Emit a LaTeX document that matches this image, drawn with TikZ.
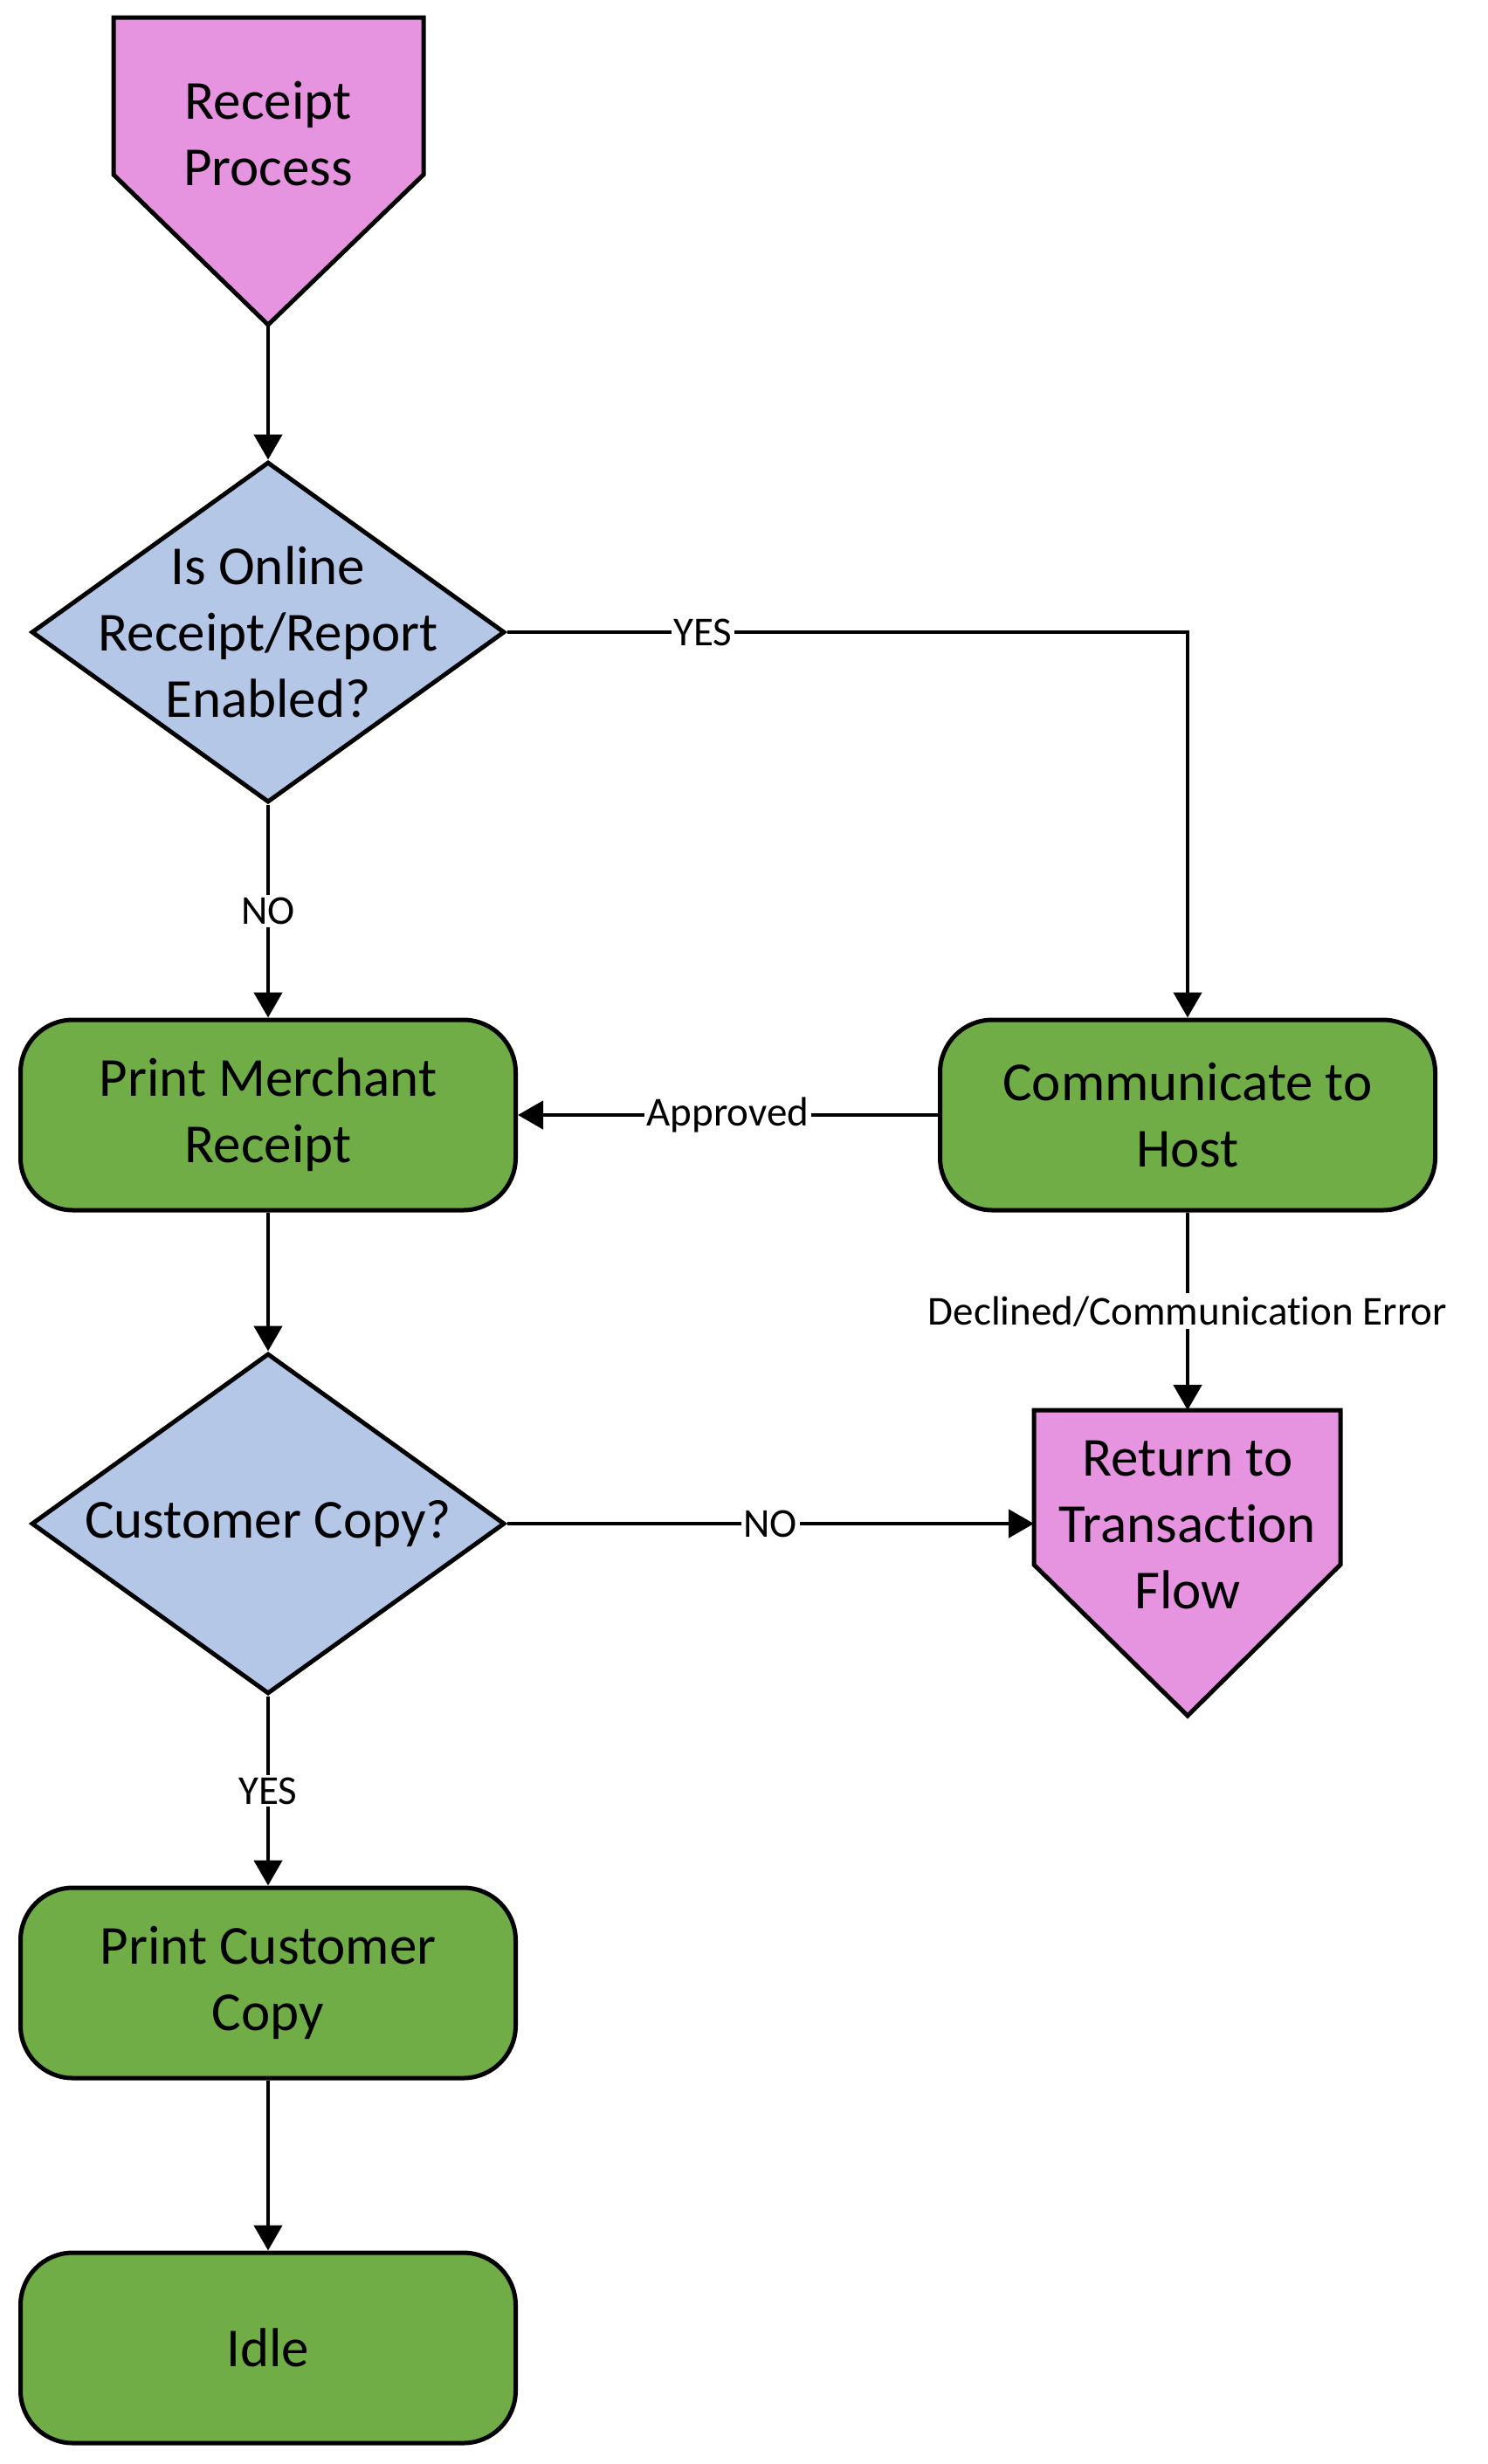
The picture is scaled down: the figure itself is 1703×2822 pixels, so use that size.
\documentclass[tikz,border=0pt]{standalone}
\usepackage{fontspec}
\setmainfont{Carlito}[Ligatures=NoCommon]
\usetikzlibrary{arrows.meta,shapes.geometric}
\definecolor{pinkc}{RGB}{230,147,224}
\definecolor{bluec}{RGB}{180,199,231}
\definecolor{greenc}{RGB}{112,173,71}
\newcommand\mainsz{\fontsize{63}{76}\selectfont}
\newcommand\lblsz{\fontsize{47}{56}\selectfont}
\begin{document}
\begin{tikzpicture}[x=1pt,y=-1pt,
  stepbox/.style={draw, line width=5pt, fill=greenc, rounded corners=60pt,
    minimum width=567pt, minimum height=218pt, align=center, font=\mainsz, inner sep=0pt},
  decision/.style={draw, diamond, line width=5pt, fill=bluec, inner sep=0pt,
    minimum width=542pt, minimum height=390pt},
  terminal/.style={draw, line width=5pt, fill=pinkc, line join=miter},
  txt/.style={align=center, font=\mainsz, inner sep=0pt},
  conn/.style={line width=4.8pt, -{Triangle[length=29pt,width=32pt]}},
  lbl/.style={fill=white, font=\lblsz, inner sep=3pt}
]
\useasboundingbox (0,0) rectangle (1703,2822);
\fill[white] (0,0) rectangle (1703,2822);

% Receipt Process (pentagon)
\draw[terminal] (130,20) -- (485,20) -- (485,200) -- (307,372) -- (130,200) -- cycle;
\node[txt] (rp) at (307,153) {Receipt\\Process};
\coordinate (rptip) at (307,372);

% Decision 1
\node[decision] (d1) at (307,724) {};
\node[txt] (d1t) at (307,724) {Is Online\\Receipt/Report\\Enabled?};

% Print Merchant Receipt
\node[stepbox] (pmr) at (307,1277) {Print Merchant\\Receipt};

% Communicate to Host
\node[stepbox] (comm) at (1360,1277) {Communicate to\\Host};

% Decision 2
\node[decision] (d2) at (307,1745) {};
\node[txt] (d2t) at (307,1745) {Customer Copy?};

% Return to Transaction Flow (pentagon)
\draw[terminal] (1184,1615) -- (1535,1615) -- (1535,1792) -- (1360,1965) -- (1184,1792) -- cycle;
\node[txt] (ret) at (1360,1746) {Return to\\Transaction\\Flow};
\coordinate (rettop) at (1360,1615);
\coordinate (retleft) at (1184,1745);

% Print Customer Copy
\node[stepbox] (pcc) at (307,2271) {Print Customer\\Copy};

% Idle
\node[stepbox] (idle) at (307,2689) {Idle};

% Connectors
\draw[conn] (rptip) -- (d1.north);
\draw[conn] (d1.south) -- node[lbl]{NO} (pmr.north);
\draw[conn] (d1.east) -| node[lbl, pos=0.144]{YES} (comm.north);
\draw[conn] (comm.west) -- node[lbl]{Approved} (pmr.east);
\draw[conn] (comm.south) -- node[lbl]{Declined/Communication Error} (rettop);
\draw[conn] (pmr.south) -- (d2.north);
\draw[conn] (d2.east) -- node[lbl]{NO} (retleft);
\draw[conn] (d2.south) -- node[lbl]{YES} (pcc.north);
\draw[conn] (pcc.south) -- (idle.north);
\end{tikzpicture}
\end{document}
